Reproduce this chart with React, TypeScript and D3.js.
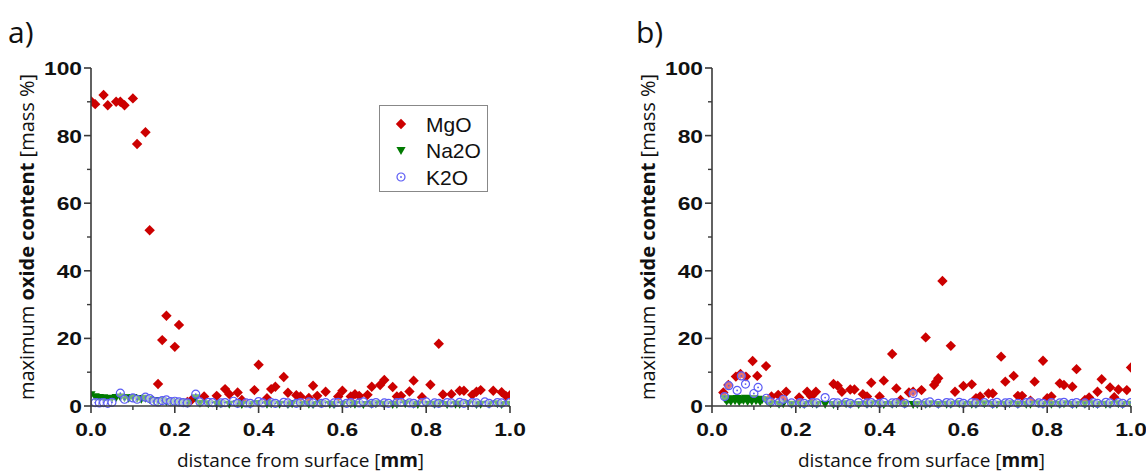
import React from "react";
import * as d3 from "d3";

type P = [number, number];

// ---------- Panel a ----------
const aMgO: P[] = [
  [0.0, 90.2], [0.01, 89.3], [0.03, 92], [0.04, 89], [0.06, 90], [0.07, 90], [0.08, 89], [0.1, 91],
  [0.11, 77.5], [0.13, 81], [0.14, 52], [0.16, 6.5], [0.17, 19.5], [0.18, 26.7], [0.2, 17.5], [0.21, 24],
  [0.23, 1.2], [0.24, 1.8], [0.27, 2.8], [0.3, 3.0], [0.32, 5.0], [0.33, 3.5], [0.35, 4.0], [0.36, 1.8],
  [0.39, 4.7], [0.4, 12.2], [0.42, 2.3], [0.43, 5.0], [0.44, 5.7], [0.46, 8.6], [0.47, 3.9], [0.49, 3.2],
  [0.5, 2.8], [0.52, 2.4], [0.53, 6.0], [0.54, 3.0], [0.56, 4.2], [0.59, 2.8], [0.6, 4.5], [0.62, 2.8],
  [0.63, 3.5], [0.64, 3.0], [0.66, 3.3], [0.67, 5.7], [0.69, 6.2], [0.7, 7.7], [0.72, 5.6], [0.73, 2.8],
  [0.74, 3.0], [0.76, 4.3], [0.77, 7.5], [0.79, 2.6], [0.81, 6.3], [0.83, 18.4], [0.84, 3.4], [0.86, 3.5],
  [0.88, 4.5], [0.89, 4.5], [0.91, 3.3], [0.92, 4.2], [0.93, 4.7], [0.96, 4.5], [0.98, 4.1], [0.99, 3.0],
  [1.0, 3.2],
];
const aNa2O: P[] = [
  [0.0, 3.3], [0.01, 2.7], [0.02, 2.5], [0.03, 2.4], [0.04, 2.2], [0.05, 2.3], [0.06, 2.5], [0.07, 2.6],
  [0.08, 2.4], [0.09, 2.3], [0.1, 2.5], [0.11, 2.2], [0.12, 2.0], [0.13, 2.3], [0.14, 1.9], [0.15, 1.6],
  [0.16, 1.4], [0.17, 1.5], [0.18, 1.2], [0.19, 1.3], [0.2, 1.0], [0.21, 1.1], [0.22, 0.9], [0.23, 0.8],
  [0.25, 2.4], [0.26, 0.8], [0.28, 0.6], [0.3, 0.5], [0.31, 0.6], [0.33, 0.5], [0.35, 0.6], [0.36, 0.4],
  [0.38, 0.5], [0.4, 0.7], [0.42, 0.5], [0.43, 0.6], [0.45, 0.5], [0.47, 0.4], [0.48, 0.6], [0.5, 0.5],
  [0.52, 0.5], [0.53, 0.4], [0.55, 0.6], [0.57, 0.5], [0.58, 0.4], [0.6, 0.5], [0.62, 0.6], [0.63, 0.5],
  [0.65, 0.4], [0.67, 0.5], [0.68, 0.6], [0.7, 0.5], [0.72, 0.4], [0.73, 0.5], [0.75, 0.6], [0.77, 0.5],
  [0.78, 0.4], [0.8, 0.5], [0.82, 0.5], [0.83, 0.6], [0.85, 0.4], [0.87, 0.5], [0.88, 0.5], [0.9, 0.6],
  [0.92, 0.4], [0.93, 0.5], [0.95, 0.5], [0.97, 0.6], [0.98, 0.4], [1.0, 0.5],
];
const aK2O: P[] = [
  [0.01, 1.0], [0.02, 0.9], [0.03, 1.0], [0.04, 0.8], [0.05, 1.1], [0.07, 3.8], [0.08, 2.0], [0.1, 2.4],
  [0.11, 2.0], [0.13, 2.6], [0.14, 2.2], [0.15, 1.4], [0.16, 1.2], [0.17, 1.6], [0.18, 1.8], [0.19, 1.3],
  [0.2, 1.4], [0.21, 1.2], [0.22, 1.0], [0.23, 0.9], [0.25, 3.5], [0.26, 1.2], [0.28, 1.1], [0.29, 1.0],
  [0.31, 0.9], [0.32, 1.0], [0.34, 1.4], [0.35, 0.8], [0.37, 0.9], [0.38, 0.8], [0.4, 1.3], [0.41, 0.9],
  [0.43, 1.0], [0.44, 0.8], [0.46, 1.1], [0.47, 0.9], [0.49, 0.8], [0.5, 1.0], [0.52, 1.2], [0.53, 0.9],
  [0.55, 0.8], [0.56, 1.0], [0.58, 0.9], [0.59, 1.1], [0.61, 0.8], [0.62, 1.0], [0.64, 0.9], [0.65, 1.2],
  [0.67, 0.8], [0.68, 1.0], [0.7, 0.9], [0.71, 0.8], [0.73, 1.0], [0.74, 1.1], [0.76, 0.9], [0.77, 0.8],
  [0.79, 1.0], [0.8, 1.2], [0.82, 0.9], [0.83, 0.8], [0.85, 1.0], [0.86, 0.9], [0.88, 1.1], [0.89, 0.8],
  [0.91, 1.0], [0.92, 0.9], [0.94, 1.2], [0.95, 0.8], [0.97, 1.0], [0.98, 0.9], [1.0, 1.1],
];

// ---------- Panel b ----------
const bMgO: P[] = [
  [0.027, 4.0], [0.039, 6.2], [0.057, 8.7], [0.068, 9.5], [0.081, 8.7], [0.097, 13.3], [0.108, 8.9],
  [0.129, 11.8], [0.142, 2.8], [0.158, 3.3], [0.17, 1.8], [0.177, 4.2], [0.208, 2.5], [0.227, 4.2],
  [0.237, 2.8], [0.248, 4.2], [0.29, 6.5], [0.3, 6.0], [0.31, 4.2], [0.33, 4.9], [0.34, 4.9], [0.36, 3.5],
  [0.37, 2.8], [0.38, 6.9], [0.4, 2.8], [0.41, 7.5], [0.43, 15.4], [0.44, 5.2], [0.45, 1.8], [0.47, 4.0],
  [0.48, 4.2], [0.5, 4.7], [0.51, 20.3], [0.53, 6.2], [0.535, 7.2], [0.54, 8.2], [0.55, 37], [0.57, 17.8],
  [0.58, 4.2], [0.6, 5.9], [0.62, 6.4], [0.63, 2.3], [0.64, 2.8], [0.66, 3.7], [0.67, 3.7], [0.69, 14.6],
  [0.7, 7.2], [0.72, 8.9], [0.73, 3.0], [0.74, 3.0], [0.76, 1.6], [0.77, 7.2], [0.79, 13.4], [0.8, 2.3],
  [0.81, 2.8], [0.83, 6.7], [0.84, 6.2], [0.86, 5.7], [0.87, 10.9], [0.89, 1.8], [0.9, 2.5], [0.92, 4.2],
  [0.93, 7.9], [0.95, 5.5], [0.96, 2.6], [0.97, 4.9], [0.99, 4.7], [1.0, 11.4],
];
const bNa2O: P[] = [
  [0.03, 2.2], [0.035, 1.4], [0.04, 2.0], [0.045, 1.3], [0.05, 2.1], [0.055, 1.5], [0.06, 2.2],
  [0.065, 1.2], [0.07, 2.0], [0.075, 1.6], [0.08, 2.3], [0.085, 1.3], [0.09, 2.1], [0.095, 1.4],
  [0.1, 2.2], [0.105, 1.5], [0.11, 2.0], [0.115, 1.2], [0.12, 1.9], [0.13, 1.6], [0.14, 0.6], [0.16, 0.5],
  [0.17, 0.6], [0.19, 0.5], [0.21, 0.5], [0.22, 0.4], [0.24, 0.6], [0.25, 0.5], [0.27, 0.5], [0.29, 0.4],
  [0.3, 0.5], [0.32, 0.6], [0.33, 0.5], [0.35, 0.4], [0.37, 0.5], [0.38, 0.6], [0.4, 0.5], [0.41, 0.4],
  [0.43, 0.5], [0.44, 0.6], [0.46, 0.5], [0.48, 0.4], [0.49, 0.5], [0.51, 0.5], [0.52, 0.6], [0.54, 0.4],
  [0.56, 0.5], [0.57, 0.5], [0.59, 0.6], [0.6, 0.4], [0.62, 0.5], [0.63, 0.5], [0.65, 0.6], [0.67, 0.4],
  [0.68, 0.5], [0.7, 0.5], [0.71, 0.6], [0.73, 0.4], [0.75, 0.5], [0.76, 0.5], [0.78, 0.6], [0.79, 0.4],
  [0.81, 0.5], [0.83, 0.5], [0.84, 0.6], [0.86, 0.4], [0.87, 0.5], [0.89, 0.5], [0.91, 0.6], [0.92, 0.4],
  [0.94, 0.5], [0.95, 0.5], [0.97, 0.6], [0.98, 0.4], [1.0, 0.5],
];
const bK2O: P[] = [
  [0.03, 2.8], [0.04, 6.0], [0.06, 4.6], [0.07, 8.9], [0.08, 6.5], [0.1, 3.7], [0.11, 5.5], [0.13, 2.3],
  [0.14, 1.2], [0.16, 1.0], [0.17, 2.0], [0.19, 0.9], [0.21, 1.0], [0.22, 0.8], [0.24, 1.0], [0.25, 0.9],
  [0.27, 2.5], [0.29, 1.0], [0.3, 0.9], [0.32, 1.1], [0.33, 0.8], [0.35, 1.0], [0.37, 0.9], [0.38, 1.0],
  [0.4, 0.8], [0.41, 1.1], [0.43, 0.9], [0.44, 1.0], [0.46, 0.8], [0.48, 3.7], [0.49, 1.0], [0.51, 0.9],
  [0.52, 1.2], [0.54, 0.8], [0.56, 1.0], [0.57, 0.9], [0.59, 1.1], [0.6, 0.8], [0.62, 1.0], [0.63, 0.9],
  [0.65, 1.0], [0.67, 0.8], [0.68, 1.1], [0.7, 0.9], [0.71, 1.0], [0.73, 0.8], [0.75, 1.0], [0.76, 1.2],
  [0.78, 0.9], [0.79, 0.8], [0.81, 1.0], [0.83, 0.9], [0.84, 1.1], [0.86, 0.8], [0.87, 1.0], [0.89, 0.9],
  [0.91, 1.0], [0.92, 0.8], [0.94, 1.1], [0.95, 0.9], [0.97, 1.0], [0.98, 0.8], [1.0, 1.0],
];

const xTicks = [0, 0.2, 0.4, 0.6, 0.8, 1.0];
const xMinor = [0.1, 0.3, 0.5, 0.7, 0.9];
const yTicks = [0, 20, 40, 60, 80, 100];
const yMinor = [10, 30, 50, 70, 90];
const seriesNames = ["MgO", "Na2O", "K2O"];

const RED = "#cc0000";
const GREEN = "#007a00";
const BLUE = "#5b5bf5";

const W = 419;
const TOP = 68;
const BOTTOM = 406;
const LABEL_FONT = "'Liberation Sans', Arial, sans-serif";
const TITLE_FONT = "'Open Sans', 'Noto Sans', sans-serif";

const diamond = "M0,-5.2L5.2,0L0,5.2L-5.2,0Z";
const triDown = "M-4.6,-3.6L4.6,-3.6L0,4.4Z";

function Diamond({ x, y }: { x: number; y: number }) {
  return <path d={diamond} transform={`translate(${x},${y})`} fill={RED} />;
}
function Tri({ x, y }: { x: number; y: number }) {
  return <path d={triDown} transform={`translate(${x},${y})`} fill={GREEN} />;
}
function Circ({ x, y }: { x: number; y: number }) {
  return (
    <g transform={`translate(${x},${y})`}>
      <circle r={4} fill="white" fillOpacity={0.45} stroke={BLUE} strokeWidth={1.2} />
      <circle r={0.9} fill={BLUE} />
    </g>
  );
}

function TickLabel({ x, y, anchor, text }: { x: number; y: number; anchor: string; text: string }) {
  return (
    <text
      transform={`translate(${x},${y}) scale(1.2,1)`}
      textAnchor={anchor}
      fontFamily={LABEL_FONT}
      fontWeight="bold"
      fontSize={19}
      fill="#111"
    >
      {text}
    </text>
  );
}

function Panel({
  ox, label, labelX, mgo, na2o, k2o, id, legend,
}: {
  ox: number; label: string; labelX: number; mgo: P[]; na2o: P[]; k2o: P[]; id: string; legend?: boolean;
}) {
  const x = d3.scaleLinear().domain([0, 1]).range([ox, ox + W]);
  const y = d3.scaleLinear().domain([0, 100]).range([BOTTOM, TOP]);
  const axisColor = "#3a3a3a";
  return (
    <g>
      <text x={labelX} y={43} fontFamily={TITLE_FONT} fontSize={30} fill="#111">{label}</text>
      <defs>
        <clipPath id={id}>
          <rect x={ox} y={TOP - 10} width={W} height={BOTTOM - TOP + 20} />
        </clipPath>
      </defs>
      <g clipPath={`url(#${id})`}>
        {mgo.map((d, i) => <Diamond key={"m" + i} x={x(d[0])} y={y(d[1])} />)}
        {na2o.map((d, i) => <Tri key={"n" + i} x={x(d[0])} y={y(d[1])} />)}
        {k2o.map((d, i) => <Circ key={"k" + i} x={x(d[0])} y={y(d[1])} />)}
      </g>
      <line x1={ox} x2={ox} y1={TOP} y2={BOTTOM} stroke={axisColor} strokeWidth={1.6} />
      <line x1={ox} x2={ox + W} y1={BOTTOM} y2={BOTTOM} stroke={axisColor} strokeWidth={1.6} />
      {yTicks.map((t) => (
        <g key={"yt" + t}>
          <line x1={ox - 7} x2={ox} y1={y(t)} y2={y(t)} stroke={axisColor} strokeWidth={1.6} />
          <TickLabel x={ox - 9} y={y(t) + 7} anchor="end" text={String(t)} />
        </g>
      ))}
      {yMinor.map((t) => (
        <line key={"ym" + t} x1={ox - 4} x2={ox} y1={y(t)} y2={y(t)} stroke={axisColor} strokeWidth={1.4} />
      ))}
      {xTicks.map((t) => (
        <g key={"xt" + t}>
          <line x1={x(t)} x2={x(t)} y1={BOTTOM} y2={BOTTOM + 7} stroke={axisColor} strokeWidth={1.6} />
          <TickLabel x={x(t)} y={BOTTOM + 30} anchor="middle" text={t.toFixed(1)} />
        </g>
      ))}
      {xMinor.map((t) => (
        <line key={"xm" + t} x1={x(t)} x2={x(t)} y1={BOTTOM} y2={BOTTOM + 4} stroke={axisColor} strokeWidth={1.4} />
      ))}
      <text x={ox + W / 2} y={467} textAnchor="middle" fontFamily={TITLE_FONT} fontSize={19} fill="#111">
        distance from surface [<tspan fontWeight="bold">mm</tspan>]
      </text>
      <text transform={`translate(${ox - 57},${(TOP + BOTTOM) / 2}) rotate(-90)`} textAnchor="middle" fontFamily={TITLE_FONT} fontSize={20} fill="#111">
        maximum <tspan fontWeight="bold">oxide content</tspan> [mass %]
      </text>
      {legend && (
        <g>
          <rect x={379.5} y={105.5} width={108} height={86} fill="white" stroke="#888" strokeWidth={1} />
          {seriesNames.map((s, i) => {
            const cy = 124 + i * 26.5;
            return (
              <g key={s}>
                {i === 0 && <Diamond x={401} y={cy} />}
                {i === 1 && <Tri x={401} y={cy} />}
                {i === 2 && <Circ x={401} y={cy} />}
                <text x={426} y={cy + 7.5} fontFamily={LABEL_FONT} fontSize={21} fill="#111">{s}</text>
              </g>
            );
          })}
        </g>
      )}
    </g>
  );
}

export default function App() {
  return (
    <svg width={1146} height={475} style={{ position: "absolute", left: 0, top: 0, background: "white" }}>
      <rect width={1146} height={475} fill="white" />
      <Panel ox={91} label="a)" labelX={8} mgo={aMgO} na2o={aNa2O} k2o={aK2O} id="clipA" legend />
      <Panel ox={712} label="b)" labelX={636} mgo={bMgO} na2o={bNa2O} k2o={bK2O} id="clipB" />
    </svg>
  );
}
